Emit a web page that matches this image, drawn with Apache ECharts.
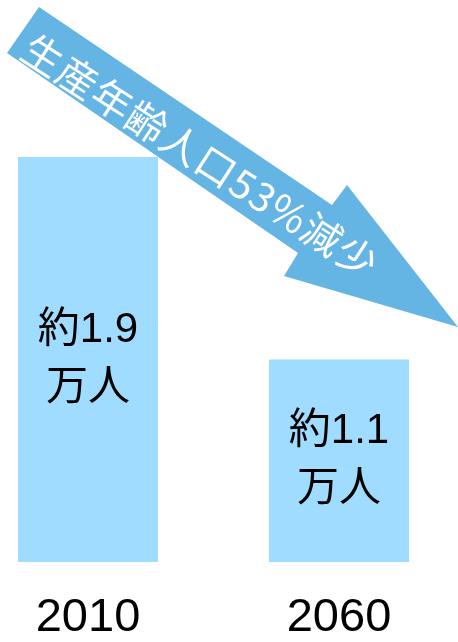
<!DOCTYPE html>
<html><head><meta charset="utf-8">
<script src="https://cdn.jsdelivr.net/npm/echarts@6/dist/echarts.min.js"></script>
<style>html,body{margin:0;padding:0;background:#fff}#c{width:458px;height:642px}</style>
</head><body><div id="c"></div>
<script>
const categories = ['2010', '2060'];
const values = [1.9, 1.1];
const arrowText = '生産年齢人口53%減少';

const chart = echarts.init(document.getElementById('c'));
const font = '"Liberation Sans", Arial, "Noto Sans CJK JP", sans-serif';
const jpFont = '"Noto Sans CJK JP", sans-serif';

// arrow shape (annotation)
const arrowPts = [[39,7],[332,205],[347,185],[458,327],[284,276],[298,253],[7,53]];

// per-character placement along the arrow
const ctx = document.createElement('canvas').getContext('2d');
const fs = 40;
ctx.font = fs + 'px ' + jpFont;
const ang = Math.atan2(202, 314);
const dx = Math.cos(ang), dy = Math.sin(ang);
const chars = Array.from(arrowText);
const widths = chars.map(ch => ctx.measureText(ch).width);
let inner = 0;
for (let i = 1; i < chars.length; i++) inner += widths[i-1] / 2 + widths[i] / 2;
const spacing = Math.max(0, (373 - inner) / (chars.length - 1));
const start = [43, 55];
let dist = 0;
const textEls = chars.map((ch, i) => {
  if (i > 0) dist += widths[i-1] / 2 + spacing + widths[i] / 2;
  return {
    type: 'text', z: 110,
    x: start[0] + dx * dist, y: start[1] + dy * dist,
    rotation: -ang,
    style: { text: ch, fill: '#fff', fontSize: fs, fontFamily: jpFont, align: 'center', verticalAlign: 'middle' }
  };
});

chart.setOption({
  animation: false,
  grid: { left: 88, right: 119, top: 157, bottom: 77 },
  xAxis: {
    type: 'category', data: categories, boundaryGap: false,
    axisLine: { show: false }, axisTick: { show: false }, splitLine: { show: false },
    axisLabel: { color: '#000', fontSize: 47, fontFamily: font, margin: 33 }
  },
  yAxis: { type: 'value', min: 0.3, max: 1.9, show: false, splitLine: { show: false } },
  series: [{
    type: 'bar', data: values, barWidth: 140,
    itemStyle: { color: '#A0DCFF' },
    label: {
      show: true, position: 'inside', color: '#000', fontSize: 42, lineHeight: 58,
      fontFamily: font, formatter: p => '約' + p.value + '\n万人'
    }
  }],
  graphic: [{ type: 'polygon', z: 100, shape: { points: arrowPts }, style: { fill: '#65B5E4' } }].concat(textEls)
});
</script></body></html>
